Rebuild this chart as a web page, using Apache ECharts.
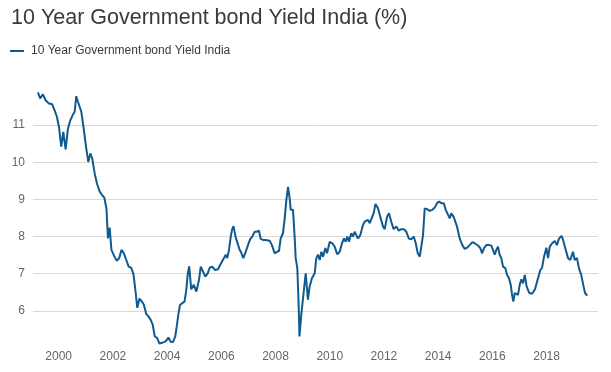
<!DOCTYPE html>
<html>
<head>
<meta charset="utf-8">
<script src="https://cdn.jsdelivr.net/npm/echarts@6/dist/echarts.min.js"></script>
<style>
html,body{margin:0;padding:0;background:#fff;}
#chart{width:611px;height:372px;}
</style>
</head>
<body>
<div id="chart"></div>
<script>
var titleText = '10 Year Government bond Yield India (%)';
var seriesName = '10 Year Government bond Yield India';
var xTickYears = ['2000','2002','2004','2006','2008','2010','2012','2014','2016','2018'];
var yTickLabels = [6, 7, 8, 9, 10, 11];

var dates = [
'1999-03-27','1999-04-27','1999-06-03','1999-07-09','1999-08-23','1999-10-06','1999-11-07','1999-12-09',
'2000-01-05','2000-02-05','2000-03-03','2000-04-04','2000-05-05','2000-06-06','2000-07-12','2000-08-04','2000-08-25','2000-09-17','2000-11-01','2000-12-03',
'2001-01-07','2001-02-03','2001-03-02','2001-03-29','2001-04-30','2001-05-31','2001-07-07','2001-08-07','2001-09-07','2001-10-06','2001-10-26','2001-11-18','2001-12-12',
'2002-01-22','2002-02-22','2002-03-27','2002-04-26','2002-05-26','2002-06-30','2002-08-01','2002-09-04','2002-10-05','2002-11-02','2002-11-25','2002-12-25',
'2003-01-27','2003-02-23','2003-03-25','2003-04-25','2003-05-25','2003-06-22','2003-07-19','2003-08-20','2003-09-20','2003-11-06','2003-12-12',
'2004-01-19','2004-02-18','2004-03-20','2004-04-20','2004-05-10','2004-05-31','2004-06-23','2004-07-24','2004-08-23','2004-09-15','2004-10-06','2004-10-25','2004-11-21','2004-12-26',
'2005-01-29','2005-03-06','2005-03-29','2005-04-29','2005-05-30','2005-07-01','2005-07-28','2005-09-02','2005-10-04','2005-11-17','2005-12-18',
'2006-01-14','2006-02-06','2006-03-01','2006-03-22','2006-04-14','2006-05-08','2006-05-25','2006-06-14','2006-07-11','2006-08-03','2006-09-03','2006-09-30','2006-10-24','2006-11-25','2006-12-26',
'2007-01-26','2007-02-22','2007-03-26','2007-04-26','2007-05-23','2007-06-15','2007-07-16','2007-08-21','2007-09-12','2007-10-14','2007-11-14','2007-12-20',
'2008-01-21','2008-02-17','2008-03-11','2008-04-11','2008-05-04','2008-05-26','2008-06-18','2008-07-10','2008-07-24','2008-08-24','2008-09-16','2008-09-29','2008-10-21','2008-11-08','2008-11-19','2008-12-13',
'2009-01-06','2009-02-11','2009-03-13','2009-04-05','2009-05-06','2009-06-12','2009-07-04','2009-07-27','2009-08-19','2009-09-10','2009-10-03','2009-11-03','2009-11-25',
'2010-01-01','2010-02-05','2010-03-08','2010-04-12','2010-05-15','2010-06-15','2010-07-12','2010-08-04','2010-08-26','2010-09-17','2010-10-18','2010-11-10','2010-12-03','2010-12-25',
'2011-01-17','2011-02-17','2011-03-25','2011-04-17','2011-05-09','2011-06-01','2011-06-24','2011-07-20','2011-08-16','2011-09-09','2011-10-13','2011-11-13','2011-12-20',
'2012-01-12','2012-02-12','2012-03-09','2012-04-09','2012-05-11','2012-06-17','2012-07-19','2012-08-23','2012-09-28','2012-10-29','2012-12-01',
'2013-01-05','2013-02-06','2013-03-05','2013-04-01','2013-04-28','2013-05-19','2013-06-11','2013-07-04','2013-08-04','2013-09-09','2013-10-14','2013-11-16','2013-12-17',
'2014-01-13','2014-02-13','2014-03-17','2014-04-13','2014-05-04','2014-06-06','2014-06-27','2014-07-29','2014-09-12','2014-10-18','2014-11-22','2014-12-25',
'2015-01-25','2015-03-02','2015-04-06','2015-05-08','2015-06-22','2015-07-23','2015-08-15','2015-09-11','2015-10-12','2015-11-17','2015-12-18',
'2016-01-10','2016-02-02','2016-02-24','2016-03-17','2016-04-09','2016-05-01','2016-05-24','2016-06-24','2016-07-17','2016-08-13','2016-09-05','2016-09-23','2016-10-10','2016-10-29','2016-11-20','2016-12-12',
'2017-01-04','2017-01-26','2017-02-18','2017-03-13','2017-04-08','2017-05-14','2017-06-19','2017-07-29','2017-08-25','2017-10-09','2017-11-01','2017-11-24','2017-12-29',
'2018-01-21','2018-02-13','2018-03-18','2018-04-20','2018-05-21','2018-06-18','2018-07-22','2018-08-11','2018-09-17','2018-10-17','2018-11-17','2018-12-23',
'2019-01-15','2019-02-15','2019-03-13','2019-04-13','2019-05-06','2019-06-03','2019-07-04'
];

var yields = [
11.88,11.72,11.83,11.67,11.58,11.56,11.40,11.22,
10.95,10.42,10.82,10.35,10.91,11.13,11.29,11.36,11.78,11.63,11.36,10.91,
10.37,10.01,10.24,10.10,9.70,9.43,9.21,9.12,9.05,8.75,7.95,8.24,7.64,
7.46,7.35,7.42,7.64,7.56,7.37,7.19,7.16,6.99,6.52,6.08,6.33,
6.25,6.16,5.92,5.85,5.76,5.62,5.31,5.27,5.12,5.15,5.18,
5.28,5.17,5.16,5.31,5.58,5.89,6.16,6.21,6.25,6.55,7.00,7.20,6.58,6.70,
6.52,6.83,7.19,7.06,6.92,7.01,7.16,7.19,7.10,7.12,7.24,
7.34,7.42,7.51,7.42,7.64,8.00,8.18,8.28,8.00,7.85,7.65,7.55,7.42,7.59,7.77,
7.94,8.00,8.13,8.13,8.16,7.94,7.91,7.91,7.86,7.89,7.77,7.55,
7.59,7.61,7.95,8.09,8.49,8.98,9.34,9.03,8.72,8.72,7.95,7.42,7.15,6.16,5.31,5.89,
6.34,7.01,6.30,6.65,6.88,7.01,7.42,7.51,7.37,7.59,7.46,7.69,7.55,
7.86,7.82,7.73,7.52,7.59,7.82,7.95,7.86,8.00,7.86,8.09,8.00,8.13,8.04,
7.95,8.04,8.31,8.40,8.36,8.45,8.36,8.40,8.63,8.88,8.76,8.53,8.27,
8.20,8.53,8.63,8.40,8.20,8.27,8.16,8.20,8.20,8.13,7.95,
7.93,8.00,7.82,7.55,7.46,7.46,8.04,8.76,8.74,8.69,8.72,8.78,8.90,
8.94,8.90,8.90,8.72,8.74,8.49,8.63,8.53,8.27,7.95,7.77,7.67,
7.70,7.77,7.85,7.82,7.76,7.69,7.55,7.69,7.77,7.77,7.76,
7.64,7.51,7.64,7.73,7.51,7.42,7.19,7.15,6.97,6.88,6.70,6.43,6.25,6.48,6.52,6.43,
6.70,6.85,6.74,6.97,6.65,6.48,6.46,6.58,6.78,7.10,7.16,7.42,7.70,
7.42,7.73,7.82,7.88,7.77,7.95,8.02,7.91,7.64,7.42,7.37,7.59,
7.37,7.42,7.15,6.97,6.74,6.48,6.41
];

function ts(s) { return new Date(s + 'T00:00:00Z').getTime(); }
var lineData = dates.map(function (d, i) { return [ts(d), yields[i]]; });
var xTickValues = xTickYears.map(function (y) { return ts(y + '-01-01'); });

var chart = echarts.init(document.getElementById('chart'), null, {renderer: 'canvas'});
chart.setOption({
  animation: false,
  backgroundColor: '#ffffff',
  textStyle: {fontFamily: 'Liberation Sans, Arial, sans-serif'},
  title: {
    text: titleText,
    left: 11, top: 7, padding: 0,
    textStyle: {fontSize: 21.5, fontWeight: 'normal', color: '#3a3a3a', fontFamily: 'Liberation Sans, Arial, sans-serif'}
  },
  legend: {
    left: 10, top: 45, padding: 0,
    icon: 'rect', itemWidth: 14, itemHeight: 2,
    textStyle: {fontSize: 12, color: '#3a3a3a', padding: [0, 0, 0, 2]},
    data: [seriesName]
  },
  grid: {left: 33, right: 13, top: 88, bottom: 24, containLabel: false},
  xAxis: {
    type: 'value',
    min: ts('1999-01-20'),
    max: ts('2019-11-25'),
    axisLine: {show: false},
    axisTick: {show: false},
    splitLine: {show: false},
    axisLabel: {
      customValues: xTickValues,
      formatter: function (v) { return String(new Date(v).getUTCFullYear()); },
      color: '#666', fontSize: 12, margin: 3
    }
  },
  yAxis: {
    type: 'value',
    min: 5, max: 12, interval: 1,
    axisLine: {show: false},
    axisTick: {show: false},
    axisLabel: {
      formatter: function (v) { return yTickLabels.indexOf(v) >= 0 ? String(v) : ''; },
      color: '#666', fontSize: 12, margin: 8
    },
    splitLine: {
      show: true,
      lineStyle: {color: ['rgba(0,0,0,0)', '#d9d9d9', '#d9d9d9', '#d9d9d9', '#d9d9d9', '#d9d9d9', '#d9d9d9', 'rgba(0,0,0,0)'], width: 1}
    }
  },
  series: [{
    name: seriesName,
    type: 'line',
    data: lineData,
    showSymbol: false,
    symbol: 'none',
    lineStyle: {color: '#0f5a8e', width: 2},
    itemStyle: {color: '#0f5a8e'}
  }]
});
</script>
</body>
</html>
